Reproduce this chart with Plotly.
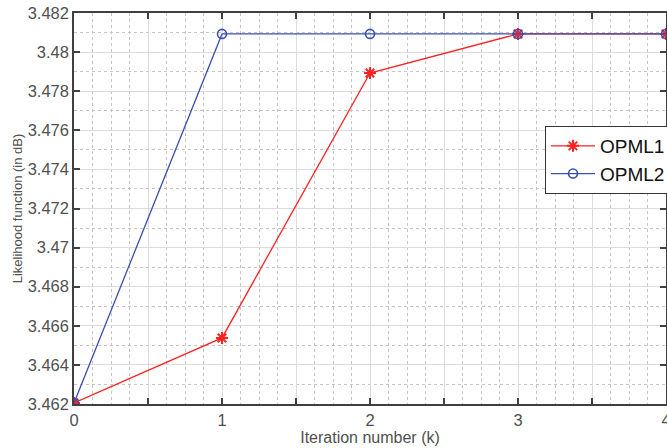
import plotly.graph_objects as go

iterations = [0, 1, 2, 3, 4]
opml1 = [3.46205, 3.46538, 3.47893, 3.48093, 3.48093]
opml2 = [3.46205, 3.48093, 3.48093, 3.48093, 3.48093]

x_tickvals = [0, 0.5, 1, 1.5, 2, 2.5, 3, 3.5, 4]
x_ticktext = ["0", "", "1", "", "2", "", "3", "", "4"]
y_tickvals = [3.462, 3.464, 3.466, 3.468, 3.47, 3.472, 3.474, 3.476, 3.478, 3.48, 3.482]
y_ticktext = ["3.462", "3.464", "3.466", "3.468", "3.47", "3.472", "3.474", "3.476", "3.478", "3.48", "3.482"]

FONT = "Liberation Sans, Arial, sans-serif"

fig = go.Figure()
fig.add_trace(go.Scatter(
    x=iterations, y=opml1, name="OPML1", mode="lines+markers",
    line=dict(color="#ff2020", width=1.3),
    marker=dict(symbol="asterisk-open", size=10, color="#ff2020", line=dict(color="#ff2020", width=2)),
))
fig.add_trace(go.Scatter(
    x=iterations, y=opml2, name="OPML2", mode="lines+markers",
    line=dict(color="#3a4fb0", width=1.3),
    marker=dict(symbol="circle-open", size=9, color="#3a4fb0", line=dict(color="#3a4fb0", width=1.6)),
))

axis_font = dict(family=FONT, size=16.5, color="#505050")
fig.update_xaxes(
    range=[0, 4], tickvals=x_tickvals, ticktext=x_ticktext,
    showline=True, linecolor="#404040", linewidth=1.5, mirror="ticks",
    ticks="inside", ticklen=6, tickcolor="#404040", tickwidth=1.5,
    showgrid=True, gridcolor="#dcdcdc", gridwidth=1,
    minor=dict(dtick=0.125, showgrid=True, gridcolor="#c4c4c4", griddash="dot", gridwidth=1, ticks=""),
    tickfont=axis_font, zeroline=False, ticklabeloverflow="allow",
    title=dict(text="Iteration number (k)", font=dict(family=FONT, size=16, color="#505050"), standoff=0),
)
fig.update_yaxes(
    range=[3.462, 3.482], tickvals=y_tickvals, ticktext=y_ticktext,
    showline=True, linecolor="#404040", linewidth=1.5, mirror="ticks",
    ticks="inside", ticklen=6, tickcolor="#404040", tickwidth=1.5,
    showgrid=True, gridcolor="#dcdcdc", gridwidth=1,
    minor=dict(dtick=0.001, tick0=3.462, showgrid=True, gridcolor="#c4c4c4", griddash="dot", gridwidth=1, ticks=""),
    tickfont=axis_font, zeroline=False, ticklabeloverflow="allow",
    title=dict(text="Likelihood function (in dB)", font=dict(family=FONT, size=13, color="#505050"), standoff=2),
)

fig.update_layout(
    width=667, height=448,
    margin=dict(l=74, r=1, t=13, b=44, autoexpand=False),
    plot_bgcolor="white", paper_bgcolor="white",
    showlegend=True,
    legend=dict(
        x=0.7956, y=0.624, xanchor="left", yanchor="middle",
        bgcolor="white", bordercolor="#333333", borderwidth=1,
        font=dict(family=FONT, size=19, color="#111111"),
        tracegroupgap=0, itemwidth=44,
    ),
)

fig.write_html("out.html")
